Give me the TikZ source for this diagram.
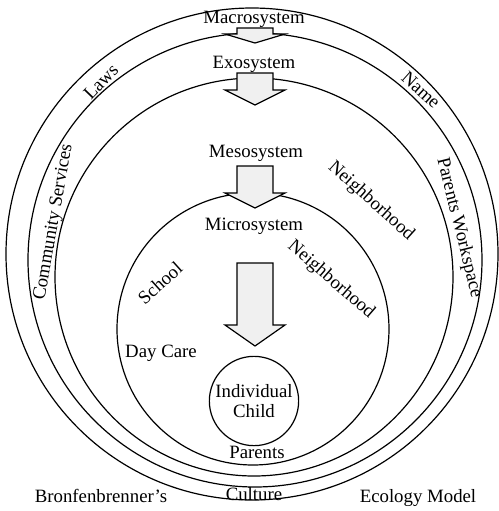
\documentclass[tikz,border=0pt]{standalone}
\usepackage{fontspec}
\setmainfont{Liberation Serif}
\usetikzlibrary{calc}

\definecolor{arrowgray}{gray}{0.94}
\newcommand\fatarrow[3]{%
	\draw[fat] (237,#1) -- (273,#1) -- (273,#2) -- (285,#2) -- (255,#3) -- (225,#2) -- (237,#2) -- cycle;}

\begin{document}
\begin{tikzpicture}[x=0.5pt,y=-0.5pt,line width=0.6pt]
	\tikzstyle{ring} = [circle, draw, inner sep=0pt];
	\tikzstyle{lbl} = [inner sep=1pt, font=\fontsize{9.4}{10}\selectfont];
	\tikzstyle{fat} = [draw, fill=arrowgray, line join=miter];
	
	\useasboundingbox (0,0) rectangle (499,511);
	
	\node[ring, minimum size=246pt] (macro) at (252,254) {};
	\node[ring, minimum size=227pt] (exo) at (255,260) {};
	\node[ring, minimum size=199pt] (meso) at (254,277) {};
	\node[ring, minimum size=136pt] (micro) at (253,329) {};
	\node[ring, lbl, minimum size=41pt, align=center] (child) at (254,401) {Individual\\Child};
	
	\fatarrow{28}{34}{43}
	\fatarrow{73}{90}{105}
	\fatarrow{166}{193}{208}
	\fatarrow{263}{325}{346}
	
	\node[lbl, anchor=base] (macrolbl) at (254,23) {Macrosystem};
	\node[lbl, anchor=base] (exolbl) at (254,68) {Exosystem};
	\node[lbl, anchor=base] (mesolbl) at (256,157) {Mesosystem};
	\node[lbl, anchor=base] (microlbl) at (254,230) {Microsystem};
	
	\node[lbl, rotate=46] (laws) at (101,82) {Laws};
	\node[lbl, rotate=80] (community) at (54,222) {Community Services};
	\node[lbl, rotate=-42] (name) at (421,90) {Name};
	\node[lbl, rotate=-76] (workspace) at (459,228) {Parents Workspace};
	\node[lbl, rotate=-42] (neighbor) at (371,201) {Neighborhood};
	\node[lbl, rotate=-41] (neighbormicro) at (331,280) {Neighborhood};
	\node[lbl, rotate=42] (school) at (160,283) {School};
	\node[lbl, anchor=base] (daycare) at (161,357) {Day Care};
	\node[lbl, anchor=base] (parents) at (257,458) {Parents};
	
	\node[lbl, anchor=base] (bronf) at (101,502) {Bronfenbrenner's};
	\node[lbl, anchor=base] (culture) at (254,500) {Culture};
	\node[lbl, anchor=base] (ecology) at (418,502) {Ecology Model};
\end{tikzpicture}
\end{document}
